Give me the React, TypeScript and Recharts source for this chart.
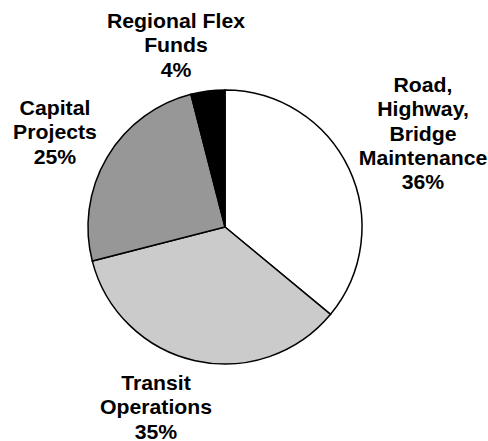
import { PieChart, Pie, Cell } from "recharts";

const CATEGORIES = [
  "Road, Highway, Bridge Maintenance",
  "Transit Operations",
  "Capital Projects",
  "Regional Flex Funds",
];
const SHARES = [36, 35, 25, 4];
const LABEL_LINES = [
  ["Road,", "Highway,", "Bridge", "Maintenance", "36%"],
  ["Transit", "Operations", "35%"],
  ["Capital", "Projects", "25%"],
  ["Regional Flex", "Funds", "4%"],
];

const FILLS = ["#ffffff", "#cbcbcb", "#979797", "#000000"];
// first-baseline offset of each label block from the pie centre
const LABEL_OFFSET = [
  { dx: 198, dy: -135 },
  { dx: -69, dy: 163 },
  { dx: -170, dy: -112 },
  { dx: -49, dy: -199 },
];
const LINE_HEIGHT = 24.3;

const data = CATEGORIES.map((name, i) => ({ name, value: SHARES[i] }));

function renderLabel(props: any) {
  const { cx, cy, index } = props;
  const off = LABEL_OFFSET[index];
  const x = cx + off.dx;
  const y = cy + off.dy;
  return (
    <g key={`lbl-${index}`}>
      {LABEL_LINES[index].map((line, j) => (
        <text
          key={j}
          transform={`translate(${x},${y + j * LINE_HEIGHT}) scale(1.09,1)`}
          textAnchor="middle"
          fontFamily="'Liberation Sans', Arial, sans-serif"
          fontWeight="bold"
          fontSize={19.5}
          fill="#000"
        >
          {line}
        </text>
      ))}
    </g>
  );
}

export default function App() {
  return (
    <div style={{ position: "absolute", left: 0, top: 0, background: "#fff" }}>
      <PieChart width={488} height={441} margin={{ top: 0, right: 0, bottom: 0, left: 0 }}>
        <Pie
          data={data}
          dataKey="value"
          nameKey="name"
          cx={225}
          cy={227}
          outerRadius={137}
          startAngle={90}
          endAngle={-270}
          stroke="#000"
          strokeWidth={1.5}
          labelLine={false}
          label={renderLabel}
          isAnimationActive={false}
        >
          {data.map((d, i) => (
            <Cell key={d.name} fill={FILLS[i]} />
          ))}
        </Pie>
      </PieChart>
    </div>
  );
}
